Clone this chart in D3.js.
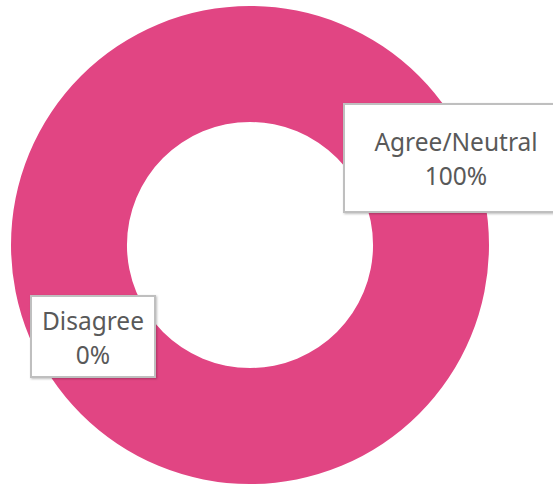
<!DOCTYPE html>
<html>
<head>
<meta charset="utf-8">
<script src="https://cdn.jsdelivr.net/npm/d3@7"></script>
<style>
  html, body { margin: 0; padding: 0; background: #fff; }
  .lbl { font-family: "Noto Sans", "Open Sans", sans-serif; fill: #595959; }
</style>
</head>
<body>
<div id="chart"></div>
<script>
var categories = ["Agree/Neutral", "Disagree"];
var values = [100, 0];
var colors = ["#e14583", "#4472c4"];

var width = 553, height = 488;
var cx = 250, cy = 245, outerR = 239, innerR = 123;

// label boxes (x, y, w, h) per category
var boxes = [
  {x: 344, y: 104, w: 224, h: 108},
  {x: 31, y: 296, w: 124, h: 81}
];

var svg = d3.select("#chart")
  .append("svg")
  .attr("width", width)
  .attr("height", height);

var defs = svg.append("defs");
var f = defs.append("filter").attr("id", "shadow")
  .attr("x", "-10%").attr("y", "-10%").attr("width", "130%").attr("height", "130%");
f.append("feDropShadow").attr("dx", 1).attr("dy", 1).attr("stdDeviation", 1)
  .attr("flood-color", "#000").attr("flood-opacity", 0.25);

var data = categories.map(function(c, i) { return {name: c, value: values[i], color: colors[i]}; });

var pie = d3.pie().sort(null).value(function(d) { return d.value; });
var arc = d3.arc().innerRadius(innerR).outerRadius(outerR);

var g = svg.append("g").attr("transform", "translate(" + cx + "," + cy + ")");
g.selectAll("path")
  .data(pie(data))
  .enter()
  .append("path")
  .attr("d", arc)
  .attr("fill", function(d) { return d.data.color; });

var total = d3.sum(values);
var labels = svg.selectAll("g.label")
  .data(data)
  .enter()
  .append("g")
  .attr("class", "label")
  .attr("transform", function(d, i) { return "translate(" + boxes[i].x + "," + boxes[i].y + ")"; });

labels.append("rect")
  .attr("width", function(d, i) { return boxes[i].w; })
  .attr("height", function(d, i) { return boxes[i].h; })
  .attr("fill", "#fff")
  .attr("stroke", "#bfbfbf")
  .attr("stroke-width", 2)
  .attr("filter", "url(#shadow)");

labels.append("text")
  .attr("class", "lbl")
  .attr("x", function(d, i) { return boxes[i].w / 2; })
  .attr("y", function(d, i) { return boxes[i].h / 2 - 7; })
  .attr("text-anchor", "middle")
  .attr("font-size", 24.5)
  .text(function(d) { return d.name; });

labels.append("text")
  .attr("class", "lbl")
  .attr("x", function(d, i) { return boxes[i].w / 2; })
  .attr("y", function(d, i) { return boxes[i].h / 2 + 27; })
  .attr("text-anchor", "middle")
  .attr("font-size", 24.5)
  .text(function(d) { return Math.round(d.value / total * 100) + "%"; });
</script>
</body>
</html>
